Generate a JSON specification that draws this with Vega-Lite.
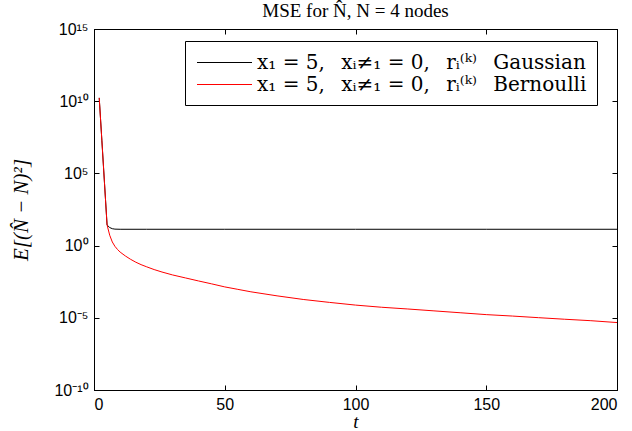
{
  "$schema": "https://vega.github.io/schema/vega-lite/v6.json",
  "autosize": {"type": "none"},
  "padding": {"left": 94, "top": 29, "right": 15, "bottom": 41},
  "width": 523,
  "height": 361,
  "background": "white",
  "title": {
    "text": "MSE for N̂, N = 4 nodes",
    "font": "Liberation Serif",
    "fontSize": 19,
    "fontWeight": "normal",
    "color": "black",
    "anchor": "middle",
    "offset": 0
  },
  "config": {
    "view": {"stroke": "black", "strokeWidth": 1},
    "axis": {
      "domainColor": "black",
      "tickColor": "black",
      "tickWidth": 1,
      "labelColor": "black",
      "labelFont": "Liberation Sans",
      "labelFontSize": 16,
      "titleColor": "black",
      "titleFont": "Liberation Serif",
      "titleFontWeight": "normal",
      "titleFontStyle": "italic",
      "titleFontSize": 21,
      "grid": false,
      "tickSize": -5
    }
  },
  "data": {
    "values": [
      {"t": 2, "v": 1.7e10, "s": "G"},
      {"t": 3, "v": 2.0e7, "s": "G"},
      {"t": 4, "v": 2.34e4, "s": "G"},
      {"t": 5, "v": 26.9, "s": "G"},
      {"t": 6, "v": 17.8, "s": "G"},
      {"t": 7, "v": 14.8, "s": "G"},
      {"t": 8, "v": 13.8, "s": "G"},
      {"t": 10, "v": 13.5, "s": "G"},
      {"t": 20, "v": 13.5, "s": "G"},
      {"t": 50, "v": 13.5, "s": "G"},
      {"t": 100, "v": 13.5, "s": "G"},
      {"t": 150, "v": 13.5, "s": "G"},
      {"t": 200, "v": 13.5, "s": "G"},
      {"t": 2, "v": 1.7e10, "s": "B"},
      {"t": 3, "v": 2.0e7, "s": "B"},
      {"t": 4, "v": 2.34e4, "s": "B"},
      {"t": 5, "v": 26.9, "s": "B"},
      {"t": 6, "v": 5.25, "s": "B"},
      {"t": 7, "v": 1.78, "s": "B"},
      {"t": 8, "v": 0.891, "s": "B"},
      {"t": 9, "v": 0.537, "s": "B"},
      {"t": 10, "v": 0.355, "s": "B"},
      {"t": 12, "v": 0.191, "s": "B"},
      {"t": 14, "v": 0.112, "s": "B"},
      {"t": 16, "v": 0.0708, "s": "B"},
      {"t": 18, "v": 0.0479, "s": "B"},
      {"t": 20, "v": 0.0347, "s": "B"},
      {"t": 23, "v": 0.0219, "s": "B"},
      {"t": 26, "v": 0.0148, "s": "B"},
      {"t": 30, "v": 0.00933, "s": "B"},
      {"t": 35, "v": 0.00575, "s": "B"},
      {"t": 40, "v": 0.00355, "s": "B"},
      {"t": 45, "v": 0.00224, "s": "B"},
      {"t": 50, "v": 0.00138, "s": "B"},
      {"t": 55, "v": 0.000933, "s": "B"},
      {"t": 60, "v": 0.000631, "s": "B"},
      {"t": 70, "v": 0.000331, "s": "B"},
      {"t": 80, "v": 0.000186, "s": "B"},
      {"t": 90, "v": 0.000117, "s": "B"},
      {"t": 100, "v": 7.59e-5, "s": "B"},
      {"t": 110, "v": 5.37e-5, "s": "B"},
      {"t": 120, "v": 4.07e-5, "s": "B"},
      {"t": 130, "v": 3.02e-5, "s": "B"},
      {"t": 140, "v": 2.24e-5, "s": "B"},
      {"t": 150, "v": 1.66e-5, "s": "B"},
      {"t": 160, "v": 1.32e-5, "s": "B"},
      {"t": 170, "v": 1.02e-5, "s": "B"},
      {"t": 180, "v": 7.94e-6, "s": "B"},
      {"t": 190, "v": 6.31e-6, "s": "B"},
      {"t": 200, "v": 4.68e-6, "s": "B"}
    ]
  },
  "resolve": {"axis": {"x": "independent", "y": "independent"}},
  "layer": [
    {
      "mark": {"type": "line", "strokeWidth": 1, "clip": true},
      "encoding": {
        "x": {
          "field": "t", "type": "quantitative",
          "scale": {"domain": [0, 200], "nice": false},
          "axis": {"orient": "bottom", "values": [0, 50, 100, 150, 200], "title": "t", "titleFontSize": 19, "labelPadding": 11, "titlePadding": 0}
        },
        "y": {
          "field": "v", "type": "quantitative",
          "scale": {"type": "log", "domain": [1e-10, 1e15], "nice": false},
          "axis": {
            "orient": "left",
            "values": [1e-10, 1e-5, 1, 1e5, 1e10, 1e15],
            "title": "E[(N̂ − N)²]",
            "labelPadding": 11,
            "titlePadding": 22,
            "labelExpr": "datum.value > 1e12 ? '10¹⁵' : datum.value > 1e7 ? '10¹⁰' : datum.value > 100 ? '10⁵' : datum.value > 1e-3 ? '10⁰' : datum.value > 1e-8 ? '10⁻⁵' : '10⁻¹⁰'"
          }
        },
        "color": {
          "field": "s", "type": "nominal",
          "scale": {"domain": ["G", "B"], "range": ["black", "red"]},
          "legend": {
            "title": null,
            "orient": "none",
            "legendX": 91,
            "legendY": 12,
            "strokeColor": "black",
            "fillColor": "white",
            "padding": 10,
            "symbolType": "M-2.5,0H2.5",
            "symbolStrokeWidth": 1,
            "symbolSize": 484,
            "symbolOffset": 18,
            "labelOffset": 21,
            "labelFont": "DejaVu Serif",
            "labelFontSize": 20,
            "labelColor": "black",
            "labelLimit": 600,
            "rowPadding": 0,
            "labelExpr": "datum.label == 'G' ? 'x₁ = 5,\u2002 xᵢ≠₁ = 0,\u2002 rᵢ⁽ᵏ⁾\u2002 Gaussian' : 'x₁ = 5,\u2002 xᵢ≠₁ = 0,\u2002 rᵢ⁽ᵏ⁾\u2002 Bernoulli'"
          }
        }
      }
    },
    {
      "mark": {"type": "line", "strokeOpacity": 0},
      "encoding": {
        "x": {
          "field": "t", "type": "quantitative",
          "scale": {"domain": [0, 200], "nice": false},
          "axis": {"orient": "top", "values": [0, 50, 100, 150, 200], "labels": false, "title": null}
        },
        "y": {
          "field": "v", "type": "quantitative",
          "scale": {"type": "log", "domain": [1e-10, 1e15], "nice": false},
          "axis": {"orient": "right", "values": [1e-10, 1e-5, 1, 1e5, 1e10, 1e15], "labels": false, "title": null}
        },
        "detail": {"field": "s"}
      }
    }
  ]
}
